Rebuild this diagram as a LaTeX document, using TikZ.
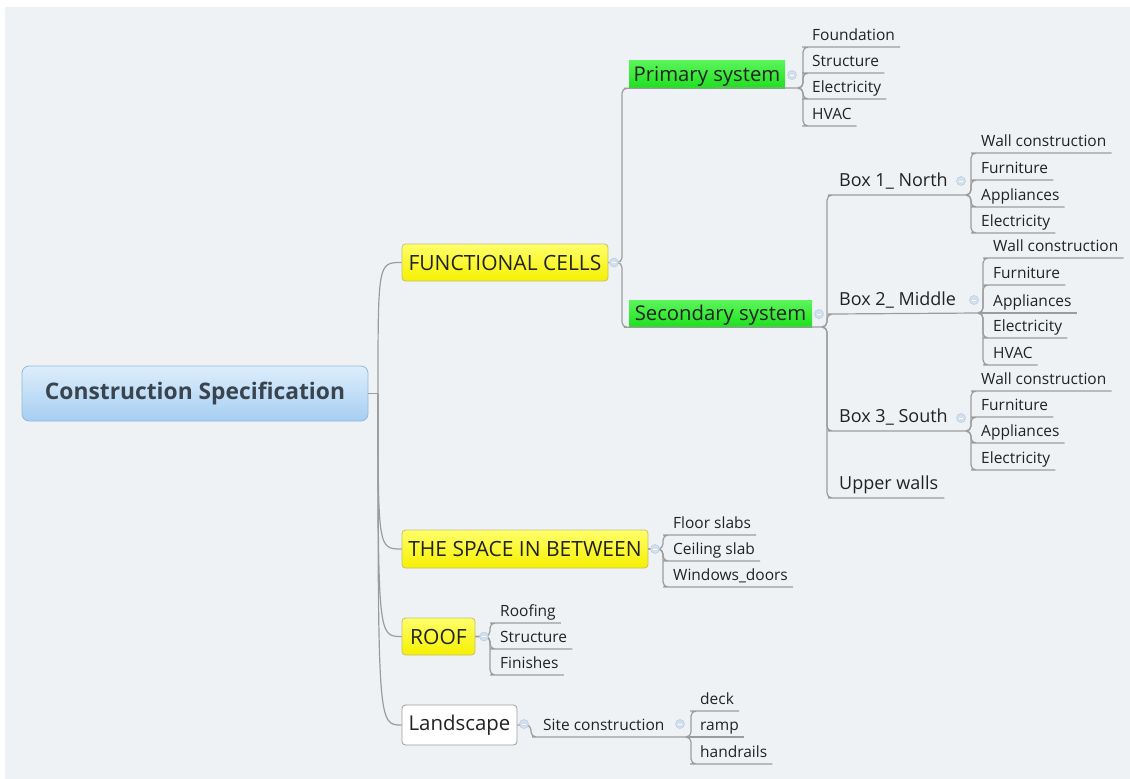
\documentclass[tikz,border=0pt]{standalone}
\usepackage{fontspec}
\setmainfont{Open Sans}
\definecolor{bg}{HTML}{EFF2F5}
\definecolor{wire}{HTML}{9C9C9C}
\definecolor{roottop}{HTML}{DDEEFC}
\definecolor{rootbot}{HTML}{A6CEF2}
\definecolor{rootedge}{HTML}{93B8D8}
\definecolor{roottext}{HTML}{3A444E}
\definecolor{ytop}{HTML}{FFFF6A}
\definecolor{ybot}{HTML}{F5F000}
\definecolor{yedge}{HTML}{C5BE78}
\definecolor{gtop}{HTML}{5CF55C}
\definecolor{gbot}{HTML}{1EE01E}
\definecolor{ink}{HTML}{222222}
\definecolor{mfill}{HTML}{D2DFEC}
\definecolor{medge}{HTML}{B9CCE0}
\begin{document}
\begin{tikzpicture}[x=1pt,y=-1pt,
  wire/.style={draw=wire,line width=1.2pt,rounded corners=5pt},
  curve/.style={draw=wire,line width=1.2pt},
  rootbox/.style={rectangle,rounded corners=7pt,draw=rootedge,line width=.8pt,
    top color=roottop,bottom color=rootbot,minimum width=346pt,minimum height=55pt,
    font=\fontsize{22.8}{25}\selectfont\bfseries,text=roottext},
  yellowbox/.style={rectangle,rounded corners=3.5pt,draw=yedge,line width=.8pt,
    top color=ytop,bottom color=ybot,minimum height=37pt,inner xsep=0pt,
    font=\fontsize{21}{24}\selectfont,text=ink},
  whitebox/.style={rectangle,rounded corners=3.5pt,draw=wire,line width=.8pt,
    fill=white,minimum height=40pt,inner xsep=0pt,
    font=\fontsize{20.4}{23}\selectfont,text=ink},
  greenbox/.style={rectangle,top color=gtop,bottom color=gbot,inner xsep=0pt,inner ysep=0pt,
    text height=16pt,text depth=1.6pt,
    font=\fontsize{20.3}{23}\selectfont,text=ink},
  branch/.style={anchor=south west,inner xsep=6pt,inner ysep=0pt,text height=13pt,
    text depth=8.3pt,font=\fontsize{18}{20}\selectfont,text=ink},
  leaf/.style={anchor=south west,inner xsep=5pt,inner ysep=0pt,text height=11pt,
    text depth=6.6pt,font=\fontsize{15.5}{18}\selectfont,text=ink},
  marker/.style={circle,minimum size=9pt,inner sep=0pt,fill=mfill,draw=medge,line width=.5pt,
    path picture={\draw[white,line width=1pt]
      ([xshift=-2pt]path picture bounding box.center) -- ([xshift=2pt]path picture bounding box.center);}}
]
% canvas
\useasboundingbox (0,0) rectangle (1130,779);
\fill[white] (0,0) rectangle (1130,779);
\fill[bg] (5,7) rectangle (1130,779);

% central topic and main branches
\node[rootbox] (root) at (195,393.5) {Construction Specification};
\node[yellowbox,minimum width=206pt] (fc) at (505,262.5) {FUNCTIONAL CELLS};
\node[yellowbox,minimum width=246pt,minimum height=38pt] (sp) at (525,549) {THE SPACE IN BETWEEN};
\node[yellowbox,minimum width=73pt] (rf) at (438.5,636.5) {ROOF};
\node[whitebox,minimum width=115pt] (ls) at (459.5,725) {Landscape};

% systems
\node[greenbox,minimum width=156pt,minimum height=28pt] (pr) at (707,74) {Primary system};
\node[greenbox,minimum width=183pt,minimum height=27pt] (se) at (720.5,313.5) {Secondary system};

% boxes of the secondary system
\node[branch] (b1) at (833,195) {Box 1\_ North};
\node[branch] (b2) at (833,314) {Box 2\_ Middle};
\node[branch] (b3) at (833,431) {Box 3\_ South};
\node[branch] (uw) at (833,498) {Upper walls};

% primary system items
\node[leaf] (p1) at (807,47) {Foundation};
\node[leaf] (p2) at (807,73) {Structure};
\node[leaf] (p3) at (807,99) {Electricity};
\node[leaf] (p4) at (807,126) {HVAC};

% box 1 items
\node[leaf] (n1) at (976,153) {Wall construction};
\node[leaf] (n2) at (976,180) {Furniture};
\node[leaf] (n3) at (976,207) {Appliances};
\node[leaf] (n4) at (976,233) {Electricity};

% box 2 items
\node[leaf] (m1) at (988,258) {Wall construction};
\node[leaf] (m2) at (988,285) {Furniture};
\node[leaf] (m3) at (988,313) {Appliances};
\node[leaf] (m4) at (988,338) {Electricity};
\node[leaf] (m5) at (988,365) {HVAC};

% box 3 items
\node[leaf] (s1) at (976,391) {Wall construction};
\node[leaf] (s2) at (976,417) {Furniture};
\node[leaf] (s3) at (976,443) {Appliances};
\node[leaf] (s4) at (976,470) {Electricity};

% space in between items
\node[leaf] (f1) at (668,535) {Floor slabs};
\node[leaf] (f2) at (668,561) {Ceiling slab};
\node[leaf] (f3) at (668,587) {Windows\_doors};

% roof items
\node[leaf] (r1) at (495,623) {Roofing};
\node[leaf] (r2) at (495,649) {Structure};
\node[leaf] (r3) at (495,675) {Finishes};

% landscape
\node[leaf,inner xsep=6pt] (sc) at (537,737) {Site construction};
\node[leaf] (d1) at (695,711) {deck};
\node[leaf] (d2) at (695,737) {ramp};
\node[leaf] (d3) at (695,764) {handrails};

% junction points
\coordinate (rj) at (378,393.5);
\coordinate (fcj) at (622,262.5);
\coordinate (prx) at (798,88);  \coordinate (prv) at (803,88);
\coordinate (sex) at (822,327); \coordinate (sev) at (827,327);
\coordinate (b1x) at (966,195); \coordinate (b1v) at (971,195);
\coordinate (b2x) at (978,313); \coordinate (b2v) at (983,313);
\coordinate (b3x) at (966,431); \coordinate (b3v) at (971,431);
\coordinate (spv) at (663,549);
\coordinate (rfv) at (490,636.5);
\coordinate (lsv) at (531,725);
\coordinate (scx) at (686,737); \coordinate (scv) at (691,737);

% curves from the central topic
\draw[curve] (root.east) -- (rj);
\foreach \c in {fc,sp,rf,ls}
  \draw[curve] (rj) .. controls (rj |- \c.west) .. (\c.west);

% functional cells
\draw[wire] (fc.east) -- (fcj) |- (pr.south west) -- (prx);
\draw[wire] (fc.east) -- (fcj) |- (se.south west) -- (sex);
\foreach \c in {p1,p2,p3,p4}
  \draw[wire] (prx) -- (prv) |- (\c.south west) -- (\c.south east);

% secondary system
\draw[wire] (sex) -- (sev) |- (b1.south west) -- (b1x);
\draw[wire] (sex) -- (sev) |- (b2.south west) -- (b2x);
\draw[wire] (sex) -- (sev) |- (b3.south west) -- (b3x);
\draw[wire] (sex) -- (sev) |- (uw.south west) -- (uw.south east);
\foreach \c in {n1,n2,n3,n4}
  \draw[wire] (b1x) -- (b1v) |- (\c.south west) -- (\c.south east);
\foreach \c in {m1,m2,m4,m5}
  \draw[wire] (b2x) -- (b2v) |- (\c.south west) -- (\c.south east);
\draw[wire] (b2x) -- (m3.south east);
\foreach \c in {s1,s2,s3,s4}
  \draw[wire] (b3x) -- (b3v) |- (\c.south west) -- (\c.south east);

% space in between, roof, landscape
\foreach \c in {f1,f2,f3}
  \draw[wire] (sp.east) -- (spv) |- (\c.south west) -- (\c.south east);
\foreach \c in {r1,r2,r3}
  \draw[wire] (rf.east) -- (rfv) |- (\c.south west) -- (\c.south east);
\draw[wire] (ls.east) -- (lsv) |- (sc.south west) -- (scx);
\foreach \c in {d1,d3}
  \draw[wire] (scx) -- (scv) |- (\c.south west) -- (\c.south east);
\draw[wire] (scx) -- (d2.south east);

% collapse markers
\node[marker] (k-fc) at (614,262.5) {};
\node[marker] (k-sp) at (655,549) {};
\node[marker] (k-rf) at (484,636.5) {};
\node[marker] (k-ls) at (524,724) {};
\node[marker] (k-pr) at (792,75) {};
\node[marker] (k-se) at (819,314) {};
\node[marker] (k-b1) at (961,181) {};
\node[marker] (k-b2) at (974,300) {};
\node[marker] (k-b3) at (961,418) {};
\node[marker] (k-sc) at (680,724) {};
\end{tikzpicture}
\end{document}
